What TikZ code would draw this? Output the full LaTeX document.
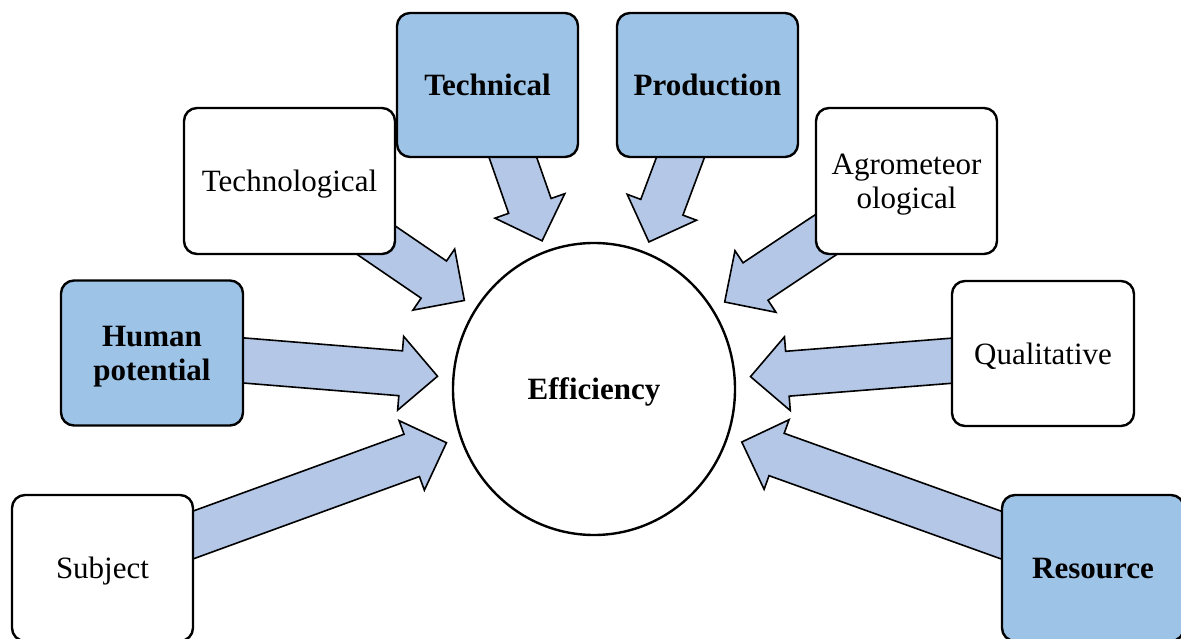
\documentclass[tikz,border=0pt]{standalone}
\usepackage{fontspec}
\setmainfont{Liberation Serif}
\usetikzlibrary{calc,backgrounds,shapes.geometric}
\definecolor{boxblue}{HTML}{9DC3E6}
\definecolor{arrblue}{HTML}{B4C7E7}
\newcommand\flowarrow[1]{%
  \coordinate (#1-tip) at ($(eff.center)!157pt!(#1.center)$);
  \coordinate (#1-hb) at ($(#1-tip)!37pt!(#1.center)$);
  \draw[arrowstyle]
    ($(#1.center)!22.5pt!90:(#1-tip)$) --
    ($(#1-hb)!22.5pt!-90:(#1.center)$) --
    ($(#1-hb)!37pt!-90:(#1.center)$) --
    (#1-tip) --
    ($(#1-hb)!37pt!90:(#1.center)$) --
    ($(#1-hb)!22.5pt!90:(#1.center)$) --
    ($(#1.center)!22.5pt!-90:(#1-tip)$) -- cycle;
}
\tikzset{
  factor/.style={draw=black, line width=2.4pt, rounded corners=13pt,
    align=center, inner sep=2pt, text depth=0pt, font=\fontsize{31}{34}\selectfont},
  plainbox/.style={factor, fill=white},
  bluebox/.style={factor, fill=boxblue, font=\fontsize{31}{34}\selectfont\bfseries},
  arrowstyle/.style={draw=black, line width=1.6pt, fill=arrblue, line join=miter},
}
\begin{document}
\begin{tikzpicture}[x=1pt,y=-1pt]
\useasboundingbox (0,0) rectangle (1181,639);
\node[ellipse, draw=black, line width=2.4pt, fill=white, minimum width=282pt,
  minimum height=292pt, inner sep=0pt, text depth=0pt, font=\fontsize{31}{34}\selectfont\bfseries]
  (eff) at (594,389) {Efficiency};
\node[bluebox, minimum width=181pt, minimum height=144pt] (tech) at (487.5,85) {Technical};
\node[bluebox, minimum width=181pt, minimum height=144pt] (prod) at (707.5,85) {Production};
\node[plainbox, minimum width=211pt, minimum height=146pt] (techno) at (289.5,181) {Technological};
\node[plainbox, minimum width=181pt, minimum height=146pt] (agro) at (906.5,181) {Agrometeor\\ological};
\node[bluebox, minimum width=182pt, minimum height=145pt] (human) at (152,353) {Human\\potential};
\node[plainbox, minimum width=182pt, minimum height=145pt] (qual) at (1043,353.5) {Qualitative};
\node[plainbox, minimum width=181pt, minimum height=146pt] (subj) at (102.5,568) {Subject};
\node[bluebox, minimum width=182pt, minimum height=146pt] (res) at (1093,568) {Resource};
\begin{scope}[on background layer]
\fill[white] (0,0) rectangle (1181,639);
\flowarrow{tech}
\flowarrow{prod}
\flowarrow{techno}
\flowarrow{agro}
\flowarrow{human}
\flowarrow{qual}
\flowarrow{subj}
\flowarrow{res}
\end{scope}
\end{tikzpicture}
\end{document}
